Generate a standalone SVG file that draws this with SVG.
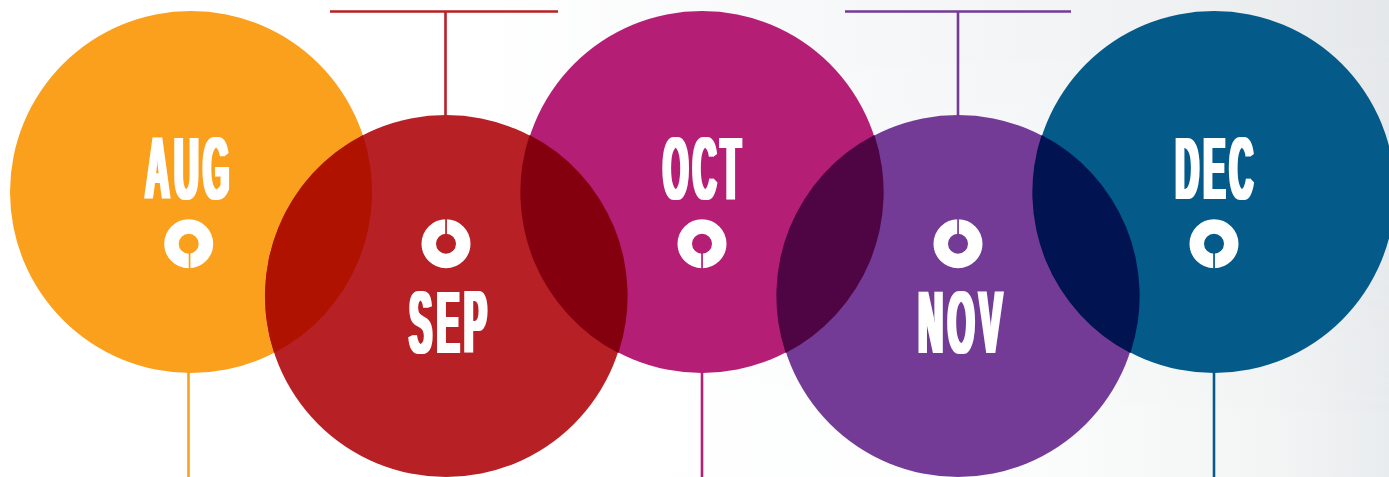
<svg xmlns="http://www.w3.org/2000/svg" width="1389" height="477" viewBox="0 0 1389 477">
<style>
.lbl{font-family:"Liberation Sans",Arial,sans-serif;font-weight:700;font-size:88.7px;letter-spacing:12px;fill:#fff;text-anchor:middle}
.ring{fill:none;stroke:#fff;stroke-width:14.5}
.ln{fill:none;stroke-width:2.6}
.aug{fill:#FAA01C}.sep{fill:#B72025}.oct{fill:#B41F75}.nov{fill:#733B96}.dec{fill:#045A89}
.saug{stroke:#FAA01C}.ssep{stroke:#B72025}.soct{stroke:#B41F75}.snov{stroke:#733B96}.sdec{stroke:#045A89}
</style>
<defs>
<linearGradient id="bgb" gradientUnits="userSpaceOnUse" x1="600" y1="0" x2="1389" y2="0">
<stop offset="0" stop-color="#fff"/><stop offset=".507" stop-color="#fcfdfd"/><stop offset=".854" stop-color="#f3f5f5"/><stop offset="1" stop-color="#e9ecee"/>
</linearGradient>
<linearGradient id="bgt" gradientUnits="userSpaceOnUse" x1="480" y1="0" x2="1389" y2="0">
<stop offset="0" stop-color="#fff"/><stop offset=".396" stop-color="#f6f8f9"/><stop offset=".737" stop-color="#f0f2f3"/><stop offset="1" stop-color="#e5e8ea"/>
</linearGradient>
<linearGradient id="fade" gradientUnits="userSpaceOnUse" x1="0" y1="40" x2="0" y2="420">
<stop offset="0" stop-color="#fff"/><stop offset="1" stop-color="#000"/>
</linearGradient>
<mask id="topfade" maskUnits="userSpaceOnUse" x="0" y="0" width="1389" height="477"><rect width="1389" height="477" fill="url(#fade)"/></mask>
<filter id="thick" filterUnits="userSpaceOnUse" x="0" y="0" width="1389" height="477" color-interpolation-filters="sRGB"><feMorphology operator="dilate" radius="2 0"/></filter>
</defs>
<rect width="1389" height="477" fill="url(#bgb)"/>
<rect width="1389" height="477" fill="url(#bgt)" mask="url(#topfade)"/>
<g id="connectors">
<path class="ln saug" d="M188.5 370V477"/>
<path class="ln ssep" d="M330 11.5H558M445.5 11.5V120"/>
<path class="ln soct" d="M702 370V477"/>
<path class="ln snov" d="M845 11.5H1071M958 11.5V120"/>
<path class="ln sdec" d="M1214 370V477"/>
</g>
<g id="node-aug"><circle class="aug" cx="191" cy="192" r="181"/><g filter="url(#thick)"><text class="lbl" transform="translate(189.5,198.5) scale(.379,1)">AUG</text></g><circle class="ring" cx="188.7" cy="243.7" r="17.25"/><rect class="aug" x="188.7" y="253" width="1.7" height="16"/></g>
<g id="node-sep"><circle class="sep" cx="446" cy="296" r="181"/><g filter="url(#thick)"><text class="lbl" transform="translate(450.3,352.5) scale(.384,1)">SEP</text></g><circle class="ring" cx="446" cy="243.7" r="17.25"/><rect class="sep" x="445.2" y="218" width="1.7" height="16"/></g>
<g id="node-oct"><circle class="oct" cx="702" cy="192" r="181"/><g filter="url(#thick)"><text class="lbl" transform="translate(704.1,198.5) scale(.368,1)">OCT</text></g><circle class="ring" cx="702" cy="243.7" r="17.25"/><rect class="oct" x="701.2" y="253" width="1.7" height="16"/></g>
<g id="node-nov"><circle class="nov" cx="958" cy="296" r="181"/><g filter="url(#thick)"><text class="lbl" transform="translate(962.5,352.5) scale(.388,1)">NOV</text></g><circle class="ring" cx="958" cy="243.7" r="17.25"/><rect class="nov" x="957.2" y="218" width="1.7" height="16"/></g>
<g id="node-dec"><circle class="dec" cx="1214" cy="192" r="181"/><g filter="url(#thick)"><text class="lbl" transform="translate(1216.5,198.5) scale(.367,1)">DEC</text></g><circle class="ring" cx="1214" cy="243.7" r="17.25"/><rect class="dec" x="1213.2" y="253" width="1.7" height="16"/></g>
<g id="overlaps">
<path fill="#B01200" d="M362.9 135.2A181 181 0 0 1 274.1 352.8A181 181 0 0 1 362.9 135.2Z"/>
<path fill="#85000F" d="M529.6 135A181 181 0 0 0 618.4 353A181 181 0 0 0 529.6 135Z"/>
<path fill="#4F0544" d="M874.4 135A181 181 0 0 1 785.6 353A181 181 0 0 1 874.4 135Z"/>
<path fill="#011351" d="M1041.6 135A181 181 0 0 0 1130.4 353A181 181 0 0 0 1041.6 135Z"/>
</g>
</svg>
